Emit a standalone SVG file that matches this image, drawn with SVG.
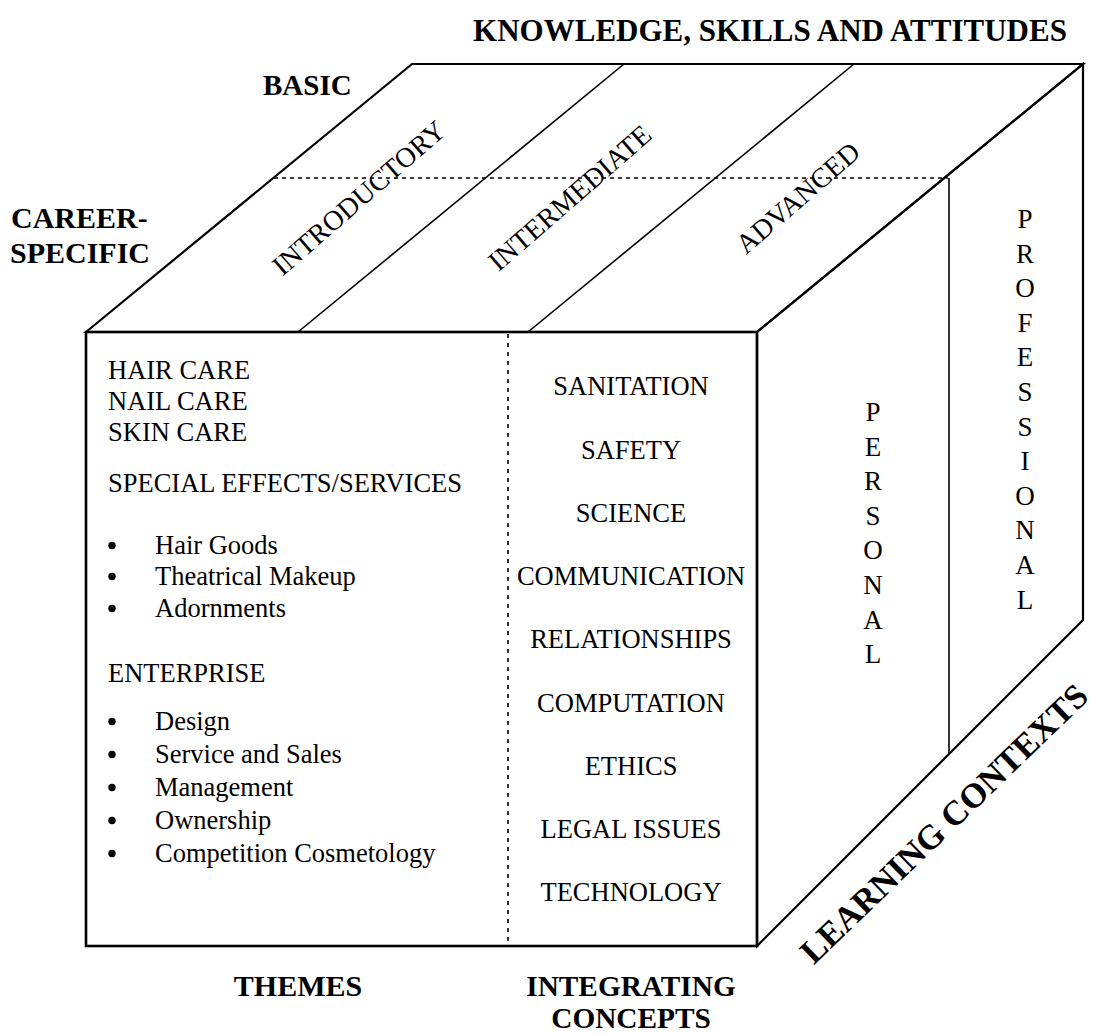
<svg xmlns="http://www.w3.org/2000/svg" width="1097" height="1034" viewBox="0 0 1097 1034">
<style>
.edge{fill:none;stroke:#000;stroke-width:2.2;stroke-linejoin:miter}
.front{fill:none;stroke:#000;stroke-width:2.6}
.thin{fill:none;stroke:#000;stroke-width:1.6}
.dash{fill:none;stroke:#000;stroke-width:1.6;stroke-dasharray:4 4}
.t{font-family:"Liberation Serif","Times New Roman",serif;font-size:26.5px;fill:#000}
.c{text-anchor:middle}
.dot{fill:#000}
.b{font-family:"Liberation Serif","Times New Roman",serif;font-size:30px;font-weight:bold;fill:#000}
.r{font-family:"Liberation Serif","Times New Roman",serif;font-size:28px;fill:#000;text-anchor:middle}
.v{font-family:"Liberation Serif","Times New Roman",serif;font-size:27px;fill:#000;text-anchor:middle}
</style>
<rect width="1097" height="1034" fill="#fff"/>

<g id="cube-top">
<polygon class="edge" points="86,332 412,64 1083,64 757,332"/>
<line class="thin" x1="298" y1="332" x2="624" y2="64"/>
<line class="thin" x1="528" y1="332" x2="854" y2="64"/>
<line class="dash" x1="274" y1="178" x2="948" y2="178"/>
<text class="r" transform="translate(365,205) rotate(-41)">INTRODUCTORY</text>
<text class="r" transform="translate(576,205) rotate(-41)">INTERMEDIATE</text>
<text class="r" transform="translate(804,205) rotate(-41)">ADVANCED</text>
</g>

<g id="cube-right">
<polygon class="edge" points="757,332 1083,64 1083,620 757,946"/>
<line class="thin" x1="949" y1="178" x2="949" y2="754"/>
<text class="v" x="873"><tspan x="873" y="421">P</tspan><tspan x="873" y="455.6">E</tspan><tspan x="873" y="490.2">R</tspan><tspan x="873" y="524.8">S</tspan><tspan x="873" y="559.4">O</tspan><tspan x="873" y="594">N</tspan><tspan x="873" y="628.6">A</tspan><tspan x="873" y="663.2">L</tspan></text>
<text class="v" x="1025"><tspan x="1025" y="228">P</tspan><tspan x="1025" y="262.6">R</tspan><tspan x="1025" y="297.2">O</tspan><tspan x="1025" y="331.8">F</tspan><tspan x="1025" y="366.4">E</tspan><tspan x="1025" y="401">S</tspan><tspan x="1025" y="435.6">S</tspan><tspan x="1025" y="470.2">I</tspan><tspan x="1025" y="504.8">O</tspan><tspan x="1025" y="539.4">N</tspan><tspan x="1025" y="574">A</tspan><tspan x="1025" y="608.6">L</tspan></text>
</g>

<g id="cube-front">
<rect class="front" x="86" y="332" width="671" height="614"/>
<line class="dash" x1="508" y1="334" x2="508" y2="945" style="stroke-dasharray:4 5"/>
</g>

<g id="themes">
<text class="t" x="108" y="379">HAIR CARE</text>
<text class="t" x="108" y="410">NAIL CARE</text>
<text class="t" x="108" y="441">SKIN CARE</text>
<text class="t" x="108" y="492">SPECIAL EFFECTS/SERVICES</text>
<circle class="dot" cx="112" cy="545.5" r="3.7"/><text class="t" x="155" y="554">Hair Goods</text>
<circle class="dot" cx="112" cy="576.5" r="3.7"/><text class="t" x="155" y="585">Theatrical Makeup</text>
<circle class="dot" cx="112" cy="608.5" r="3.7"/><text class="t" x="155" y="617">Adornments</text>
<text class="t" x="108" y="682">ENTERPRISE</text>
<circle class="dot" cx="112" cy="721.5" r="3.7"/><text class="t" x="155" y="730">Design</text>
<circle class="dot" cx="112" cy="754.5" r="3.7"/><text class="t" x="155" y="763">Service and Sales</text>
<circle class="dot" cx="112" cy="787.5" r="3.7"/><text class="t" x="155" y="796">Management</text>
<circle class="dot" cx="112" cy="820.5" r="3.7"/><text class="t" x="155" y="829">Ownership</text>
<circle class="dot" cx="112" cy="853.5" r="3.7"/><text class="t" x="155" y="862">Competition Cosmetology</text>
</g>

<g id="integrating-concepts">
<text class="t c" x="631" y="395">SANITATION</text>
<text class="t c" x="631" y="459">SAFETY</text>
<text class="t c" x="631" y="522">SCIENCE</text>
<text class="t c" x="631" y="585">COMMUNICATION</text>
<text class="t c" x="631" y="648">RELATIONSHIPS</text>
<text class="t c" x="631" y="712">COMPUTATION</text>
<text class="t c" x="631" y="775">ETHICS</text>
<text class="t c" x="631" y="838">LEGAL ISSUES</text>
<text class="t c" x="631" y="901">TECHNOLOGY</text>
</g>

<g id="axis-labels">
<text class="b" x="770" y="41" text-anchor="middle" style="font-size:31px">KNOWLEDGE, SKILLS AND ATTITUDES</text>
<text class="b" x="263" y="95" style="font-size:29px">BASIC</text>
<text class="b" x="11" y="228">CAREER-</text>
<text class="b" x="10" y="263">SPECIFIC</text>
<text class="b" x="298" y="996" text-anchor="middle">THEMES</text>
<text class="b" x="631" y="996" text-anchor="middle" style="font-size:29.3px">INTEGRATING</text>
<text class="b" x="631" y="1028" text-anchor="middle" style="font-size:29.3px">CONCEPTS</text>
<text class="b" transform="translate(952,832) rotate(-44)" text-anchor="middle" style="font-size:34.5px">LEARNING CONTEXTS</text>
</g>
</svg>
